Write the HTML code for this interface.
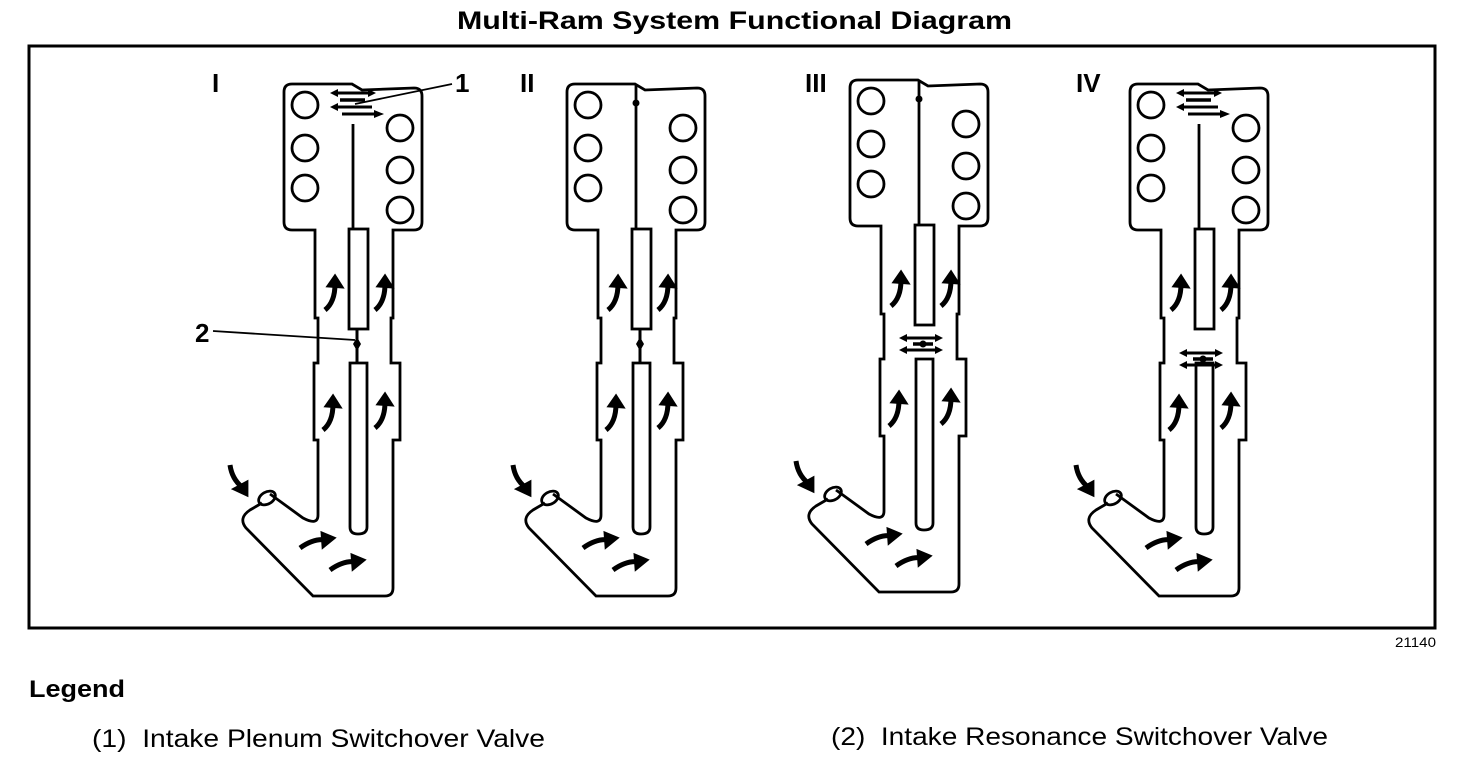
<!DOCTYPE html>
<html><head><meta charset="utf-8"><style>
html,body{margin:0;padding:0;background:#fff;width:1472px;height:760px;overflow:hidden;font-family:"Liberation Sans",Arial,sans-serif}
</style></head><body>
<svg width="1472" height="760" viewBox="0 0 1472 760" xmlns="http://www.w3.org/2000/svg">
<defs>
<g id="up">
 <path d="M0,0 Q10,-8 10,-26" fill="none" stroke="#000" stroke-width="5"/>
 <polygon points="3,-24 10,-34 17,-23" fill="#000"/>
</g>
<g id="right">
 <path d="M0,0 Q14,-10 26,-8" fill="none" stroke="#000" stroke-width="5"/>
 <polygon points="22,-15 34,-10 23,-1" fill="#000"/>
</g>
<g id="down">
 <path d="M0,0 Q2,14 12,22" fill="none" stroke="#000" stroke-width="5"/>
 <polygon points="4,24 17,30 17,17" fill="#000"/>
</g>
<g id="dbl">
 <line x1="-20" y1="-6" x2="16" y2="-6" stroke="#000" stroke-width="3"/>
 <polygon points="-24,-6 -16,-10 -16,-2" fill="#000"/>
 <polygon points="20,-6 12,-10 12,-2" fill="#000"/>
 <line x1="-10" y1="0" x2="10" y2="0" stroke="#000" stroke-width="3.5"/>
 <circle cx="0" cy="0" r="3.5" fill="#000"/>
 <line x1="-20" y1="6" x2="16" y2="6" stroke="#000" stroke-width="3"/>
 <polygon points="-24,6 -16,2 -16,10" fill="#000"/>
 <polygon points="20,6 12,2 12,10" fill="#000"/>
</g>
<g id="body" fill="none" stroke="#000" stroke-width="2.8">
 <path d="M292,84 L352,84 L362,90 L414,88 Q422,88 422,96 L422,222 Q422,230 414,230 L393,230 L393,318 L391,318 L391,363 L400,363 L400,440 L393,440 L393,588 Q393,596 385,596 L313,596 L246,528 Q238,518 250,510 L262,503"/>
 <path d="M270,494 L303,518 Q318,526 318,515 L318,440 L314,440 L314,363 L318,363 L318,318 L315,318 L315,230 L292,230 Q284,230 284,222 L284,92 Q284,84 292,84"/>
 <ellipse cx="267" cy="498" rx="9" ry="6" transform="rotate(-30 267 498)"/>
 <circle cx="305" cy="105" r="13"/><circle cx="305" cy="148" r="13"/><circle cx="305" cy="188" r="13"/>
 <circle cx="400" cy="128" r="13"/><circle cx="400" cy="170" r="13"/><circle cx="400" cy="210" r="13"/>
 <line x1="353" y1="124" x2="353" y2="228"/>
 <rect x="349" y="229" width="19" height="100"/>
 <path d="M350,363 L367,363 L367,527 Q367,534 358,534 Q350,534 350,527 Z"/>
 <use href="#up" x="325" y="310"/><use href="#up" x="375" y="310"/>
 <use href="#up" x="323" y="430"/><use href="#up" x="375" y="428"/>
 <use href="#down" x="230" y="465"/>
 <use href="#right" x="300" y="548"/><use href="#right" x="330" y="570"/>
</g>
<g id="topArrows">
 <line x1="334" y1="93" x2="372" y2="93" stroke="#000" stroke-width="3"/>
 <polygon points="330,93 338,89 338,97" fill="#000"/><polygon points="376,93 368,89 368,97" fill="#000"/>
 <line x1="340" y1="100" x2="365" y2="100" stroke="#000" stroke-width="3.5"/>
 <line x1="334" y1="107" x2="372" y2="107" stroke="#000" stroke-width="3"/>
 <polygon points="330,107 338,103 338,111" fill="#000"/><polygon points="384,114 374,110 374,118" fill="#000"/>
 <line x1="342" y1="114" x2="378" y2="114" stroke="#000" stroke-width="3"/>
</g>
<g id="topClosed"><line x1="353" y1="84" x2="353" y2="124" stroke="#000" stroke-width="2.8"/><circle cx="353" cy="103" r="3.5" fill="#000"/></g>
<g id="midClosed"><line x1="357" y1="329" x2="357" y2="363" stroke="#000" stroke-width="3"/><polygon points="357,337 361,344 357,351 353,344" fill="#000"/></g>
</defs>
<text x="457" y="29" textLength="555" lengthAdjust="spacingAndGlyphs" font-size="25" font-weight="bold">Multi-Ram System Functional Diagram</text>
<rect x="29" y="46" width="1406" height="582" fill="none" stroke="#000" stroke-width="3"/>
<g font-size="26" font-weight="bold">
<text x="212" y="92">I</text><text x="520" y="92">II</text><text x="805" y="92">III</text><text x="1076" y="92">IV</text>
<text x="455" y="92">1</text><text x="195" y="342">2</text>
</g>
<line x1="452" y1="84" x2="355" y2="104" stroke="#000" stroke-width="1.8"/>
<line x1="213" y1="331" x2="355" y2="340" stroke="#000" stroke-width="1.8"/>
<use href="#body"/><use href="#topArrows"/><use href="#midClosed"/>
<g transform="translate(283,0)"><use href="#body"/><use href="#topClosed"/><use href="#midClosed"/></g>
<g transform="translate(566,-4)"><use href="#body"/><use href="#topClosed"/><use href="#dbl" x="357" y="348"/></g>
<g transform="translate(846,0)"><use href="#body"/><use href="#topArrows"/><use href="#dbl" x="357" y="359"/></g>
<text x="1395" y="647" textLength="41" lengthAdjust="spacingAndGlyphs" font-size="14">21140</text>
<text x="29" y="697" textLength="96" lengthAdjust="spacingAndGlyphs" font-size="24" font-weight="bold">Legend</text>
<text x="92" y="747" textLength="453" lengthAdjust="spacingAndGlyphs" font-size="25">(1)&#160;&#160;Intake Plenum Switchover Valve</text>
<text x="831" y="745" textLength="497" lengthAdjust="spacingAndGlyphs" font-size="25">(2)&#160;&#160;Intake Resonance Switchover Valve</text>
</svg>
</body></html>
